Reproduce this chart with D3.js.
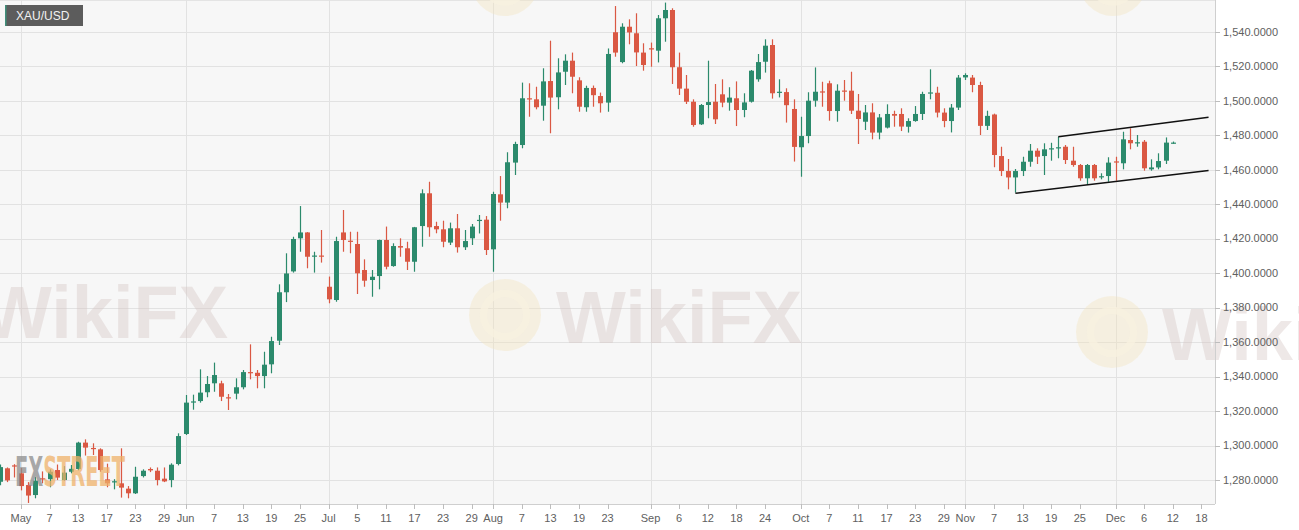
<!DOCTYPE html>
<html><head><meta charset="utf-8">
<script src="https://cdn.jsdelivr.net/npm/d3@7"></script>
<style>
html,body{margin:0;padding:0;background:#fff;}
svg{display:block;font-family:"Liberation Sans",Arial,sans-serif;}
</style></head>
<body>
<svg id="chart" width="1299" height="530"></svg>
<script>
// ---------- DATA ----------
const title = "XAU/USD";
const dates = [
"2019-04-26","2019-04-29","2019-04-30",
"2019-05-01","2019-05-02","2019-05-03","2019-05-06","2019-05-07","2019-05-08","2019-05-09","2019-05-10","2019-05-13","2019-05-14","2019-05-15","2019-05-16","2019-05-17","2019-05-20","2019-05-21","2019-05-22","2019-05-23","2019-05-24","2019-05-27","2019-05-28","2019-05-29","2019-05-30","2019-05-31",
"2019-06-03","2019-06-04","2019-06-05","2019-06-06","2019-06-07","2019-06-10","2019-06-11","2019-06-12","2019-06-13","2019-06-14","2019-06-17","2019-06-18","2019-06-19","2019-06-20","2019-06-21","2019-06-24","2019-06-25","2019-06-26","2019-06-27","2019-06-28",
"2019-07-01","2019-07-02","2019-07-03","2019-07-04","2019-07-05","2019-07-08","2019-07-09","2019-07-10","2019-07-11","2019-07-12","2019-07-15","2019-07-16","2019-07-17","2019-07-18","2019-07-19","2019-07-22","2019-07-23","2019-07-24","2019-07-25","2019-07-26","2019-07-29","2019-07-30","2019-07-31",
"2019-08-01","2019-08-02","2019-08-05","2019-08-06","2019-08-07","2019-08-08","2019-08-09","2019-08-12","2019-08-13","2019-08-14","2019-08-15","2019-08-16","2019-08-19","2019-08-20","2019-08-21","2019-08-22","2019-08-23","2019-08-26","2019-08-27","2019-08-28","2019-08-29","2019-08-30",
"2019-09-02","2019-09-03","2019-09-04","2019-09-05","2019-09-06","2019-09-09","2019-09-10","2019-09-11","2019-09-12","2019-09-13","2019-09-16","2019-09-17","2019-09-18","2019-09-19","2019-09-20","2019-09-23","2019-09-24","2019-09-25","2019-09-26","2019-09-27","2019-09-30",
"2019-10-01","2019-10-02","2019-10-03","2019-10-04","2019-10-07","2019-10-08","2019-10-09","2019-10-10","2019-10-11","2019-10-14","2019-10-15","2019-10-16","2019-10-17","2019-10-18","2019-10-21","2019-10-22","2019-10-23","2019-10-24","2019-10-25","2019-10-28","2019-10-29","2019-10-30","2019-10-31",
"2019-11-01","2019-11-04","2019-11-05","2019-11-06","2019-11-07","2019-11-08","2019-11-11","2019-11-12","2019-11-13","2019-11-14","2019-11-15","2019-11-18","2019-11-19","2019-11-20","2019-11-21","2019-11-22","2019-11-25","2019-11-26","2019-11-27","2019-11-28","2019-11-29",
"2019-12-02","2019-12-03","2019-12-04","2019-12-05","2019-12-06","2019-12-09","2019-12-10","2019-12-11","2019-12-12"
];
// axis-only future sessions (no candles)
const futureDates = ["2019-12-13","2019-12-16","2019-12-17","2019-12-18","2019-12-19","2019-12-20"];

const open = [
1279.0,1286.8,1288.5,
1283.9,1277.1,1271.3,1281.0,1280.5,1285.8,1280.0,1284.8,1286.4,1301.7,1298.6,1297.8,1280.4,1279.0,1278.1,1275.0,1272.3,1282.3,1286.4,1285.4,1280.8,1280.0,1289.3,
1306.7,1325.3,1325.8,1330.9,1336.1,1336.1,1328.0,1330.1,1333.8,1342.6,1342.2,1340.3,1347.1,1360.8,1388.9,1401.0,1420.2,1423.6,1409.8,1410.2,
1392.1,1384.4,1423.6,1418.8,1416.9,1401.8,1396.0,1398.3,1419.2,1404.1,1415.7,1414.4,1406.6,1427.3,1446.3,1427.3,1425.4,1417.7,1426.0,1415.0,1420.2,1430.6,1431.0,
1413.8,1445.7,1440.9,1464.1,1474.3,1501.4,1500.8,1497.1,1511.4,1502.0,1516.8,1523.2,1511.8,1496.2,1507.4,1502.7,1498.9,1539.7,1522.4,1542.9,1539.1,1527.9,
1530.4,1529.0,1547.8,1552.6,1519.4,1507.0,1499.4,1486.3,1497.5,1499.4,1503.7,1498.9,1501.4,1494.6,1499.4,1512.4,1522.6,1532.3,1505.0,1505.0,1495.2,
1473.0,1479.5,1500.0,1505.4,1510.1,1494.0,1505.9,1505.8,1494.2,1487.8,1493.2,1481.5,1484.4,1492.3,1492.3,1484.9,1488.2,1492.3,1504.6,1504.6,1493.1,1488.2,1496.0,
1513.5,1513.4,1509.1,1485.4,1492.0,1467.9,1459.2,1455.5,1459.2,1464.6,1471.0,1467.9,1472.2,1472.8,1473.3,1465.2,1462.7,1455.0,1462.7,1455.8,1456.3,
1464.8,1463.7,1477.2,1475.7,1476.2,1460.2,1461.3,1465.2,1475.5
];
const high = [
1289.0,1287.3,1289.2,
1287.0,1278.8,1281.9,1285.0,1286.2,1289.0,1288.1,1288.7,1302.2,1303.6,1301.3,1298.4,1289.5,1280.5,1298.4,1276.5,1287.7,1286.2,1287.3,1287.3,1287.3,1289.7,1307.1,
1329.3,1329.5,1344.2,1340.3,1348.1,1337.6,1329.9,1339.0,1343.8,1358.7,1343.8,1354.4,1363.1,1393.5,1411.5,1421.1,1438.9,1423.8,1412.4,1425.0,
1398.0,1421.1,1436.6,1424.0,1424.0,1408.0,1401.8,1419.4,1427.0,1417.3,1420.2,1418.2,1426.8,1448.6,1453.0,1429.8,1430.4,1429.3,1434.3,1425.0,1428.5,1433.7,1433.1,
1447.2,1456.3,1470.1,1476.2,1510.5,1510.1,1508.1,1518.8,1534.8,1524.6,1526.9,1527.9,1513.6,1508.7,1508.8,1504.7,1530.3,1554.9,1544.9,1547.2,1550.7,1533.3,
1533.7,1549.7,1556.9,1553.6,1527.9,1514.9,1500.8,1498.1,1523.2,1509.7,1512.4,1507.8,1511.2,1504.3,1517.8,1527.1,1535.6,1535.6,1512.4,1507.2,1500.8,
1490.7,1504.9,1519.3,1511.0,1511.6,1509.5,1512.0,1516.8,1503.9,1497.5,1498.5,1492.3,1497.9,1494.2,1495.6,1489.8,1496.9,1505.2,1518.2,1508.1,1495.6,1498.1,1514.9,
1515.9,1514.9,1511.0,1494.2,1492.5,1473.3,1466.2,1460.4,1467.5,1474.9,1472.4,1475.3,1475.6,1479.1,1474.3,1473.3,1463.3,1463.3,1463.3,1457.9,1467.2,
1467.5,1482.0,1484.0,1480.1,1477.2,1466.0,1469.5,1478.7,1476.3
];
const low = [
1277.0,1278.8,1281.5,
1274.0,1266.7,1269.4,1278.1,1275.8,1280.0,1279.6,1283.9,1285.6,1294.2,1294.5,1284.8,1275.8,1274.6,1269.8,1269.4,1271.9,1281.5,1284.6,1276.9,1278.8,1275.8,1288.5,
1306.1,1320.8,1324.9,1328.0,1331.2,1325.8,1320.6,1326.8,1332.6,1338.4,1333.2,1333.2,1341.9,1358.3,1383.2,1400.3,1412.4,1402.8,1400.3,1406.1,
1382.5,1383.4,1412.4,1411.5,1387.9,1392.1,1386.3,1390.6,1402.2,1403.7,1409.5,1401.8,1400.8,1415.3,1421.1,1423.1,1415.0,1416.3,1411.9,1413.4,1416.3,1423.0,1410.5,
1400.8,1430.4,1437.6,1456.9,1472.4,1490.7,1495.0,1488.4,1481.1,1495.0,1509.1,1504.3,1493.6,1493.6,1496.5,1493.1,1493.6,1525.5,1521.7,1532.7,1520.1,1517.4,
1519.7,1522.2,1534.2,1509.7,1503.3,1498.1,1484.9,1485.9,1489.8,1486.5,1496.2,1494.2,1485.3,1490.4,1498.9,1511.0,1516.3,1501.2,1501.9,1487.3,1464.7,
1455.9,1475.3,1496.5,1496.5,1488.4,1487.8,1500.0,1492.3,1474.9,1483.0,1477.6,1477.6,1483.9,1484.9,1482.4,1481.5,1487.8,1488.8,1500.8,1490.3,1484.6,1481.6,1494.6,
1512.0,1504.9,1480.1,1483.0,1461.4,1456.3,1448.6,1446.7,1456.3,1461.7,1463.3,1456.9,1465.2,1466.6,1463.3,1461.7,1453.6,1451.1,1453.6,1454.4,1453.0,
1453.6,1460.2,1471.8,1473.3,1459.4,1459.4,1460.2,1463.3,1475.0
];
const close = [
1287.5,1279.8,1287.8,
1276.5,1271.0,1279.6,1280.5,1284.8,1281.4,1284.3,1286.5,1301.7,1298.8,1298.2,1285.8,1278.1,1279.3,1275.6,1272.3,1281.9,1285.4,1285.6,1280.0,1279.2,1288.9,1305.5,
1324.9,1325.6,1330.7,1335.7,1340.9,1328.3,1327.8,1333.8,1342.6,1342.0,1340.3,1346.9,1360.6,1388.9,1399.8,1419.8,1423.6,1409.5,1410.2,1409.8,
1384.8,1418.6,1419.2,1418.4,1399.9,1395.6,1397.9,1419.2,1403.7,1415.7,1414.8,1406.6,1426.6,1446.3,1426.6,1425.4,1418.2,1426.0,1415.0,1418.6,1427.0,1430.9,1413.4,
1445.9,1440.9,1464.3,1474.9,1501.4,1501.0,1496.2,1511.2,1501.8,1516.4,1523.2,1513.9,1496.5,1507.4,1503.2,1498.5,1527.1,1527.9,1542.9,1539.6,1528.0,1520.7,
1530.2,1547.8,1552.6,1519.4,1507.0,1499.4,1485.9,1497.5,1499.2,1489.2,1498.9,1501.8,1494.6,1499.0,1517.4,1522.4,1531.9,1504.3,1505.2,1497.4,1473.2,
1479.5,1500.0,1505.2,1505.0,1494.0,1505.8,1505.6,1494.2,1489.4,1493.2,1481.5,1490.3,1492.3,1491.3,1485.0,1488.2,1492.3,1503.9,1504.8,1493.1,1488.2,1496.0,1513.4,
1514.9,1509.1,1485.4,1491.2,1468.5,1459.2,1455.5,1459.2,1464.6,1471.0,1467.5,1471.8,1472.4,1473.0,1465.6,1462.7,1455.0,1462.7,1455.0,1456.2,1464.1,
1464.4,1477.6,1475.3,1475.9,1460.8,1461.3,1465.0,1475.7,1475.7
];

const tickDates = ["2019-05-01","2019-05-07","2019-05-13","2019-05-17","2019-05-23","2019-05-29",
"2019-06-03","2019-06-07","2019-06-13","2019-06-19","2019-06-25",
"2019-07-01","2019-07-05","2019-07-11","2019-07-17","2019-07-23","2019-07-29",
"2019-08-01","2019-08-07","2019-08-13","2019-08-19","2019-08-23",
"2019-09-02","2019-09-06","2019-09-12","2019-09-18","2019-09-24",
"2019-10-01","2019-10-07","2019-10-11","2019-10-17","2019-10-23","2019-10-29",
"2019-11-01","2019-11-07","2019-11-13","2019-11-19","2019-11-25",
"2019-12-02","2019-12-06","2019-12-12","2019-12-18"];
const tickLabels = ["May","7","13","17","23","29","Jun","7","13","19","25","Jul","5","11","17","23","29",
"Aug","7","13","19","23","Sep","6","12","18","24","Oct","7","11","17","23","29","Nov","7","13","19","25","Dec","6","12","18"];
const monthTicks = ["May","Jun","Jul","Aug","Sep","Oct","Nov","Dec"];
const yTicks = [1280,1300,1320,1340,1360,1380,1400,1420,1440,1460,1480,1500,1520,1540];

// channel (trend) lines drawn on the chart
const channelUpper = [["2019-11-20",1479.1],["2019-12-19",1490.4]];
const channelLower = [["2019-11-12",1446.3],["2019-12-19",1459.5]];

// ---------- LAYOUT ----------
const W = 1299, H = 530;
const plot = {x0:0, x1:1215, y0:0, y1:504};
const UP = "#2b8a6c", DOWN = "#da5843";

const axisDates = dates.concat(futureDates);
const idx = new Map(axisDates.map((d,i)=>[d,i]));

const x = d3.scaleLinear().domain([0.065, 169.9]).range([plot.x0, plot.x1]);
const y = d3.scaleLinear().domain([1266.1, 1558.4]).range([plot.y1, plot.y0]);

const svg = d3.select("#chart");

// plot background
svg.append("rect").attr("x",plot.x0).attr("y",plot.y0)
  .attr("width",plot.x1-plot.x0).attr("height",plot.y1-plot.y0)
  .attr("fill","#f7f7f7");
svg.append("line").attr("x1",0).attr("x2",plot.x1).attr("y1",0.5).attr("y2",0.5)
  .attr("stroke","#e4e4e4");

const defs = svg.append("defs");
defs.append("clipPath").attr("id","clip")
  .append("rect").attr("x",plot.x0).attr("y",plot.y0)
  .attr("width",plot.x1-plot.x0).attr("height",plot.y1-plot.y0);

// gridlines
const grid = svg.append("g");
grid.selectAll("line.h").data(yTicks).join("line")
  .attr("x1",plot.x0).attr("x2",plot.x1)
  .attr("y1",d=>Math.round(y(d))+0.5).attr("y2",d=>Math.round(y(d))+0.5)
  .attr("stroke","#e2e2e2").attr("stroke-width",1);
const monthTickData = tickDates.map((d,i)=>({d, l:tickLabels[i]})).filter(t=>monthTicks.includes(t.l));
grid.selectAll("line.v").data(monthTickData).join("line")
  .attr("x1",t=>Math.round(x(idx.get(t.d)))+0.5).attr("x2",t=>Math.round(x(idx.get(t.d)))+0.5)
  .attr("y1",plot.y0).attr("y2",plot.y1)
  .attr("stroke","#e2e2e2").attr("stroke-width",1);

// watermarks
const wm = svg.append("g").attr("pointer-events","none");
function wikiLogo(cx, cy, r){
  const g = wm.append("g");
  g.append("circle").attr("cx",cx).attr("cy",cy).attr("r",r).attr("fill","#f2e3bd").attr("opacity",0.4);
  g.append("circle").attr("cx",cx).attr("cy",cy).attr("r",r*0.6).attr("fill","none")
    .attr("stroke","#f8f1e0").attr("stroke-width",r*0.2).attr("opacity",0.8);
}
function wikiText(xx, yy, size){
  wm.append("text").attr("x",xx).attr("y",yy).text("WikiFX")
    .attr("font-family","'Liberation Sans',Arial,sans-serif").attr("font-weight","bold")
    .attr("font-size",size).attr("fill","#d6c6c4").attr("opacity",0.4);
}
wikiText(-18, 338, 74);
wikiLogo(505, 315, 36);
wikiText(556, 343, 74);
wikiLogo(1112, 332, 36);
wikiText(1162, 360, 74);
wikiLogo(505, -18, 34);
wikiLogo(1113, -18, 34);

// candles
const candles = dates.map((d,i)=>({d, o:open[i], h:high[i], l:low[i], c:close[i]}));
const bw = 5;
const cg = svg.append("g").attr("clip-path","url(#clip)");
cg.selectAll("line.wick").data(candles).join("line")
  .attr("x1",c=>Math.round(x(idx.get(c.d)))+0.5).attr("x2",c=>Math.round(x(idx.get(c.d)))+0.5)
  .attr("y1",c=>y(c.h)).attr("y2",c=>y(c.l))
  .attr("stroke",c=>c.c>=c.o?UP:DOWN).attr("stroke-width",1.2);
cg.selectAll("rect.body").data(candles).join("rect")
  .attr("x",c=>Math.round(x(idx.get(c.d)))+0.5-bw/2)
  .attr("y",c=>y(Math.max(c.o,c.c)))
  .attr("width",bw)
  .attr("height",c=>Math.max(1.2, Math.abs(y(c.o)-y(c.c))))
  .attr("fill",c=>c.c>=c.o?UP:DOWN);

// channel lines
const lineGen = d3.line().x(p=>x(idx.get(p[0]))).y(p=>y(p[1]));
[channelUpper, channelLower].forEach(pts=>{
  cg.append("path").attr("d",lineGen(pts)).attr("fill","none")
    .attr("stroke","#111").attr("stroke-width",1.4);
});

// FXSTREET logo
const fx = svg.append("g").attr("opacity",0.75);
const fxT = fx.append("text").attr("x",15).attr("y",486)
  .attr("font-family","'DejaVu Sans Condensed','Liberation Sans Narrow','Liberation Sans',sans-serif")
  .attr("font-size",40).attr("font-weight","bold");
fxT.append("tspan").attr("fill","#8d8d8d").text("FX");
fxT.append("tspan").attr("fill","#efb26a").text("STREET");
fxT.attr("textLength",110).attr("lengthAdjust","spacingAndGlyphs");

// X axis
const xa = svg.append("g");
xa.append("line").attr("x1",plot.x0).attr("x2",plot.x1).attr("y1",plot.y1+0.5).attr("y2",plot.y1+0.5)
  .attr("stroke","#cfcfcf");
const ticks = tickDates.map((d,i)=>({d, l:tickLabels[i]}));
xa.selectAll("line.t").data(ticks).join("line")
  .attr("x1",t=>Math.round(x(idx.get(t.d)))+0.5).attr("x2",t=>Math.round(x(idx.get(t.d)))+0.5)
  .attr("y1",plot.y1).attr("y2",plot.y1+5).attr("stroke","#bdbdbd");
xa.selectAll("text").data(ticks).join("text")
  .attr("x",t=>x(idx.get(t.d))).attr("y",522)
  .attr("text-anchor","middle").attr("font-size",11).attr("fill","#606060")
  .text(t=>t.l);

// Y axis (right)
const ya = svg.append("g");
ya.append("line").attr("x1",plot.x1+0.5).attr("x2",plot.x1+0.5).attr("y1",0).attr("y2",plot.y1)
  .attr("stroke","#cfcfcf");
ya.selectAll("line.t").data(yTicks).join("line")
  .attr("x1",plot.x1).attr("x2",plot.x1+5)
  .attr("y1",d=>Math.round(y(d))+0.5).attr("y2",d=>Math.round(y(d))+0.5)
  .attr("stroke","#bdbdbd");
const fmt = d3.format(",.4f");
ya.selectAll("text").data(yTicks).join("text")
  .attr("x",plot.x1+8).attr("y",d=>y(d)).attr("dy","0.35em")
  .attr("font-size",11).attr("fill","#606060")
  .text(d=>fmt(d));

// title box
const tb = svg.append("g");
tb.append("rect").attr("x",5).attr("y",5).attr("width",78).attr("height",21).attr("fill","#5c5c5c");
tb.append("rect").attr("x",5).attr("y",5).attr("width",1.5).attr("height",21).attr("fill","#3f8f7a");
tb.append("text").attr("x",16).attr("y",20).attr("font-size",12).attr("fill","#f2f2f2").text(title);
</script>
</body></html>
